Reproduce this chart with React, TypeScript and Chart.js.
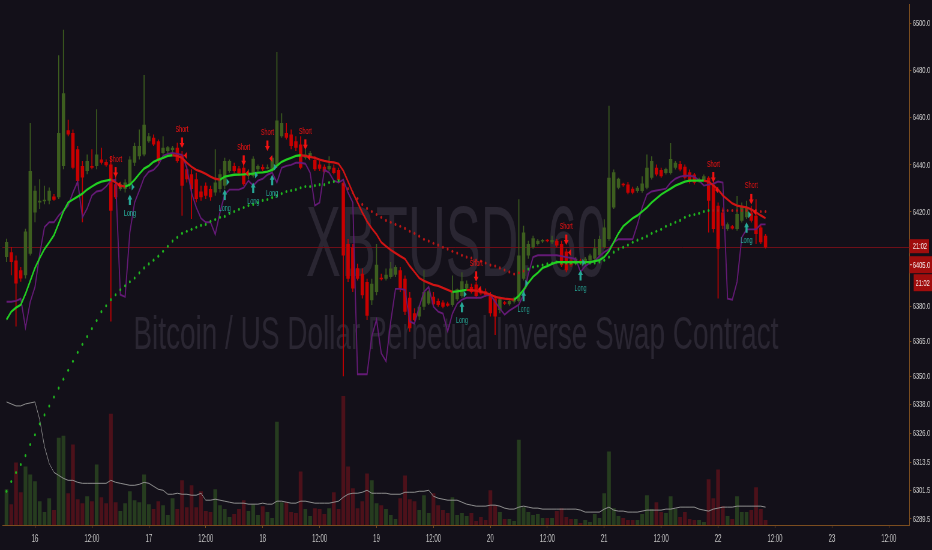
import React, { useEffect, useRef } from "react";
import { Chart, registerables } from "chart.js";
Chart.register(...registerables);

// ---------- view ----------
const SQUASH = 0.6; // the reference is horizontally condensed
const VIEW_W = 932;
const VIEW_H = 550;
const CANVAS_W = Math.round(VIEW_W / SQUASH);

// ---------- time axis ----------
const firstDay = 16;          // day label at hour 0
const firstBarHour = -6;      // first candle opens 6h before day 16
const xMinHour = -6.87;
const xMaxHour = 184.35;
const xTickHours = [0, 12, 24, 36, 48, 60, 72, 84, 96, 108, 120, 132, 144, 156, 168, 180];

// ---------- price axis ----------
const yMin = 6286.9;
const yMax = 6508.4;
const yTickValues = [6289.5, 6301.5, 6313.5, 6326, 6338, 6350, 6365, 6380, 6420, 6440, 6460, 6480, 6500];

// ---------- candles (1h) ----------
const opens = [
  6400.8, 6402.9, 6399.4, 6395.2, 6393.1, 6402.2, 6419.8, 6424.0, 6424.5, 6424.8,
  6426.6, 6426.2, 6439.5, 6454.7, 6453.6, 6446.6, 6439.5, 6437.4, 6439.5, 6439.5,
  6442.3, 6441.2, 6440.2, 6431.8, 6429.7, 6429.7, 6431.8, 6440.9, 6443.7, 6444.4,
  6450.1, 6451.5, 6450.1, 6445.1, 6445.9, 6446.3, 6447.3, 6444.4, 6438.1, 6436.0,
  6433.9, 6428.7, 6431.1, 6429.7, 6428.3, 6429.7, 6431.1, 6437.4, 6439.5, 6438.5,
  6438.8, 6435.3, 6435.3, 6438.1, 6439.1, 6438.4, 6437.4, 6439.5, 6452.2, 6453.6,
  6452.9, 6450.1, 6448.7, 6443.0, 6443.7, 6442.1, 6440.2, 6439.2, 6438.1, 6438.8,
  6437.8, 6432.4, 6406.4, 6405.0, 6396.1, 6393.7, 6390.2, 6382.5, 6386.0, 6391.9,
  6391.6, 6392.3, 6393.3, 6395.2, 6391.6, 6383.5, 6376.9, 6375.5, 6379.7, 6381.1,
  6383.9, 6382.1, 6381.5, 6381.1, 6380.4, 6382.9, 6384.3, 6387.4, 6388.1, 6389.1,
  6386.7, 6386.3, 6384.6, 6383.2, 6378.3, 6381.5, 6380.7, 6381.8, 6382.1, 6391.6,
  6401.5, 6405.0, 6406.4, 6407.4, 6407.8, 6407.1, 6407.8, 6406.4, 6403.2, 6399.4,
  6398.0, 6399.4, 6398.7, 6399.4, 6400.1, 6401.5, 6405.0, 6408.5, 6421.9, 6430.3,
  6431.7, 6431.7, 6429.9, 6428.9, 6428.9, 6430.3, 6434.5, 6438.8, 6437.8, 6436.6,
  6436.6, 6438.8, 6440.4, 6439.2, 6436.9, 6435.9, 6433.1, 6433.5, 6434.5, 6431.7,
  6422.6, 6419.8, 6412.7, 6413.9, 6412.7, 6416.2, 6417.7, 6419.8, 6418.4, 6413.4,
  6409.9,
];
const highs = [
  6408.6, 6405.1, 6401.5, 6396.6, 6412.8, 6457.8, 6431.1, 6433.9, 6431.1, 6430.4,
  6427.6, 6486.6, 6497.5, 6459.2, 6455.0, 6448.0, 6441.6, 6444.4, 6446.6, 6463.7,
  6447.3, 6442.3, 6443.7, 6438.8, 6432.5, 6433.9, 6443.7, 6449.4, 6455.0, 6478.2,
  6453.6, 6452.9, 6450.8, 6452.2, 6448.0, 6448.0, 6449.4, 6445.9, 6439.5, 6438.1,
  6436.7, 6431.1, 6432.5, 6431.1, 6446.6, 6438.1, 6443.0, 6442.3, 6440.9, 6439.5,
  6443.7, 6438.1, 6443.7, 6440.2, 6440.2, 6440.2, 6443.7, 6488.0, 6462.0, 6457.8,
  6455.0, 6452.2, 6452.2, 6446.6, 6445.9, 6443.7, 6441.6, 6440.2, 6443.7, 6440.2,
  6438.8, 6433.8, 6408.5, 6406.4, 6398.0, 6395.9, 6391.6, 6391.6, 6406.4, 6393.7,
  6395.9, 6398.7, 6397.3, 6396.6, 6393.0, 6386.0, 6379.0, 6380.4, 6395.2, 6386.7,
  6386.0, 6383.2, 6382.5, 6381.8, 6393.0, 6387.4, 6394.4, 6390.9, 6389.5, 6390.2,
  6387.4, 6387.4, 6386.0, 6384.6, 6383.9, 6382.1, 6382.5, 6383.9, 6425.4, 6414.1,
  6407.8, 6409.9, 6408.5, 6408.5, 6408.5, 6409.9, 6408.5, 6407.8, 6404.3, 6400.8,
  6400.8, 6400.1, 6400.8, 6402.2, 6408.5, 6409.9, 6416.9, 6465.1, 6438.0, 6434.5,
  6432.4, 6432.7, 6430.7, 6431.0, 6435.2, 6444.4, 6443.7, 6440.2, 6438.8, 6438.8,
  6449.3, 6441.6, 6441.6, 6440.2, 6438.0, 6436.6, 6434.5, 6435.9, 6435.2, 6433.1,
  6424.0, 6421.9, 6415.5, 6414.4, 6426.8, 6424.0, 6424.7, 6422.6, 6425.4, 6414.8,
  6410.6,
];
const lows = [
  6398.7, 6393.1, 6371.3, 6390.3, 6391.7, 6401.5, 6415.6, 6421.2, 6423.3, 6423.3,
  6424.8, 6425.5, 6438.1, 6452.2, 6438.1, 6431.1, 6415.6, 6436.0, 6438.1, 6438.1,
  6440.2, 6439.2, 6373.4, 6425.5, 6429.0, 6428.3, 6429.7, 6439.5, 6442.3, 6443.7,
  6449.4, 6448.0, 6440.9, 6444.4, 6445.1, 6445.4, 6440.9, 6418.4, 6432.5, 6417.0,
  6424.1, 6424.8, 6425.5, 6424.8, 6426.9, 6428.3, 6429.7, 6436.7, 6436.7, 6435.3,
  6431.1, 6433.9, 6434.6, 6437.4, 6437.4, 6438.1, 6436.7, 6438.8, 6451.5, 6450.8,
  6446.6, 6445.9, 6438.1, 6442.3, 6443.0, 6437.4, 6437.4, 6436.4, 6437.4, 6436.0,
  6432.7, 6350.1, 6390.2, 6386.0, 6390.9, 6383.2, 6374.1, 6380.4, 6384.6, 6390.9,
  6390.9, 6391.6, 6392.3, 6386.0, 6376.2, 6369.1, 6373.4, 6374.1, 6378.3, 6380.4,
  6379.7, 6379.7, 6379.0, 6379.7, 6379.7, 6382.1, 6383.5, 6386.7, 6385.3, 6383.2,
  6384.6, 6383.9, 6375.5, 6367.7, 6376.9, 6380.4, 6380.1, 6381.1, 6381.5, 6390.9,
  6400.1, 6404.3, 6405.7, 6406.8, 6407.1, 6406.4, 6405.0, 6396.6, 6394.4, 6396.6,
  6397.3, 6397.5, 6398.0, 6398.7, 6399.4, 6400.8, 6404.3, 6407.8, 6421.2, 6429.6,
  6430.7, 6427.5, 6427.5, 6428.2, 6428.2, 6429.6, 6433.8, 6435.2, 6434.5, 6435.9,
  6435.9, 6438.0, 6437.3, 6433.8, 6432.1, 6431.7, 6432.4, 6433.0, 6411.3, 6411.3,
  6383.2, 6412.7, 6412.0, 6412.5, 6412.0, 6415.5, 6417.0, 6415.5, 6406.4, 6406.4,
  6404.5,
];
const closes = [
  6407.2, 6398.7, 6389.6, 6391.7, 6411.7, 6437.4, 6429.0, 6424.8, 6425.0, 6429.0,
  6425.2, 6453.6, 6470.5, 6452.9, 6438.8, 6433.2, 6434.6, 6441.6, 6438.8, 6444.4,
  6440.9, 6439.8, 6420.5, 6426.2, 6431.8, 6432.5, 6442.3, 6448.0, 6448.0, 6457.1,
  6452.2, 6448.7, 6441.6, 6447.3, 6447.5, 6447.3, 6441.6, 6431.1, 6433.9, 6429.7,
  6425.5, 6426.2, 6426.9, 6426.2, 6432.5, 6436.0, 6441.6, 6441.6, 6437.4, 6436.4,
  6431.8, 6436.7, 6442.6, 6439.5, 6438.1, 6438.8, 6443.0, 6458.9, 6457.8, 6451.5,
  6448.0, 6447.3, 6438.8, 6444.4, 6445.1, 6438.1, 6438.4, 6437.1, 6439.5, 6436.6,
  6433.6, 6401.5, 6391.6, 6387.4, 6391.6, 6384.6, 6375.9, 6389.5, 6397.5, 6391.4,
  6393.3, 6395.9, 6396.6, 6387.4, 6377.6, 6370.5, 6374.1, 6379.7, 6386.0, 6386.3,
  6380.7, 6380.4, 6379.7, 6380.1, 6386.0, 6387.1, 6390.5, 6389.5, 6386.0, 6384.3,
  6385.3, 6384.6, 6376.9, 6375.5, 6382.9, 6381.0, 6382.1, 6383.2, 6401.5, 6411.3,
  6406.4, 6408.8, 6407.8, 6407.8, 6407.5, 6408.1, 6405.7, 6397.3, 6395.2, 6397.3,
  6400.1, 6398.4, 6400.1, 6401.5, 6404.6, 6408.5, 6413.4, 6434.5, 6436.9, 6434.1,
  6431.3, 6428.2, 6428.2, 6430.3, 6432.1, 6438.8, 6441.6, 6435.9, 6435.2, 6438.3,
  6442.5, 6440.9, 6438.0, 6434.5, 6432.7, 6432.4, 6433.8, 6435.2, 6424.7, 6412.7,
  6404.3, 6414.1, 6414.8, 6413.0, 6419.1, 6422.6, 6421.9, 6416.2, 6410.6, 6407.1,
  6405.0,
];

// ---------- volume pane (10k contracts) ----------
const volumes = [
  36, 21, 63, 33, 59, 51, 44, 24, 13, 27,
  15, 88, 90, 32, 81, 26, 22, 29, 24, 61,
  28, 22, 112, 23, 14, 22, 34, 25, 23, 51,
  21, 16, 24, 20, 10, 27, 16, 45, 18, 40,
  18, 34, 14, 13, 36, 20, 16, 8, 11, 16,
  25, 14, 21, 10, 19, 13, 7, 104, 23, 23,
  13, 12, 54, 16, 9, 17, 16, 11, 17, 33,
  16, 130, 59, 37, 17, 24, 52, 45, 22, 20,
  16, 10, 6, 27, 50, 26, 24, 15, 30, 12,
  32, 20, 15, 12, 28, 10, 12, 9, 12, 4,
  8, 5, 35, 20, 13, 6, 6, 4, 86, 18,
  13, 10, 11, 7, 7, 7, 14, 17, 8, 6,
  6, 2, 5, 3, 11, 7, 32, 74, 17, 9,
  7, 5, 5, 5, 11, 30, 16, 23, 13, 12,
  29, 16, 8, 13, 6, 5, 5, 3, 46, 27,
  56, 19, 9, 6, 29, 13, 13, 15, 38, 16,
  5,
];
const volumeIndicator = [
  124, 122, 120, 120, 122, 123, 124, 106, 79, 62,
  53, 50, 47, 45, 45, 43, 42, 42, 42, 42,
  42, 42, 45, 43, 42, 41, 40, 40, 41, 43,
  42, 39, 36, 35, 31, 31, 32, 31, 31, 30,
  30, 32, 25, 25, 26, 25, 24, 23, 22, 22,
  22, 21, 21, 21, 22, 21, 21, 24, 24, 23,
  22, 22, 24, 24, 23, 22, 22, 22, 22, 23,
  24, 28, 31, 32, 32, 33, 35, 32, 32, 32,
  32, 31, 31, 31, 33, 33, 33, 34, 34, 35,
  29, 27, 26, 25, 25, 25, 23, 21, 20, 19,
  19, 19, 20, 20, 19, 17, 16, 16, 18, 19,
  18, 17, 17, 16, 16, 16, 16, 16, 16, 16,
  16, 15, 13, 13, 13, 13, 16, 18, 15, 14,
  14, 13, 13, 13, 14, 15, 15, 15, 15, 16,
  16, 17, 18, 18, 18, 18, 16, 15, 14, 16,
  17, 18, 18, 18, 19, 19, 19, 19, 19, 19,
  18,
];
const volumeAxisMax = 525;

// ---------- indicators ----------
const fastLine = [
  6374.2, 6377.6, 6379.3, 6380.5, 6385.2, 6390.7, 6396.2, 6400.4, 6404.2, 6407.1,
  6410.1, 6415.1, 6420.2, 6424.0, 6425.3, 6426.5, 6427.8, 6429.5, 6430.8, 6432.0,
  6432.9, 6433.3, 6433.7, 6432.5, 6431.2, 6430.8, 6431.6, 6433.7, 6436.2, 6438.4,
  6439.6, 6441.3, 6442.2, 6443.0, 6443.8, 6444.1, 6443.8, 6443.0, 6440.9, 6439.2,
  6437.9, 6437.1, 6436.2, 6435.0, 6434.1, 6433.7, 6435.0, 6435.4, 6435.8, 6435.9,
  6436.0, 6436.2, 6436.3, 6436.7, 6436.8, 6437.1, 6437.9, 6439.6, 6441.3, 6442.2,
  6443.0, 6443.8, 6444.1, 6443.8, 6443.4, 6443.0, 6442.2, 6441.7, 6441.3, 6441.1,
  6440.5, 6437.5, 6432.9, 6428.2, 6424.0, 6419.8, 6416.0, 6413.0, 6410.5, 6407.1,
  6405.4, 6403.8, 6402.5, 6401.2, 6400.0, 6397.0, 6394.5, 6391.9, 6390.7, 6389.8,
  6389.0, 6388.6, 6387.7, 6386.9, 6386.0, 6386.2, 6386.5, 6386.9, 6386.7, 6386.5,
  6386.0, 6385.6, 6384.8, 6383.9, 6383.5, 6383.1, 6382.9, 6382.7, 6384.4, 6386.9,
  6389.8, 6392.4, 6394.1, 6396.2, 6397.0, 6397.9, 6398.7, 6398.7, 6398.7, 6398.7,
  6398.7, 6398.7, 6398.7, 6398.7, 6399.1, 6399.5, 6400.8, 6403.3, 6407.1, 6410.9,
  6413.9, 6415.6, 6417.3, 6418.5, 6420.2, 6421.9, 6424.0, 6425.7, 6427.4, 6428.7,
  6429.9, 6431.2, 6432.0, 6432.9, 6433.3, 6433.3, 6433.3, 6433.3, 6432.9, 6431.2,
  6429.5, 6427.0, 6425.3, 6423.6, 6422.7, 6422.3, 6421.9, 6421.1, 6419.8, 6418.5,
  6417.3,
];
const slowLine = [
  6301.2, 6305.4, 6309.2, 6312.6, 6316.4, 6321.1, 6325.3, 6329.9, 6333.7, 6337.5,
  6341.3, 6345.1, 6348.9, 6352.7, 6356.5, 6360.3, 6363.7, 6367.0, 6370.4, 6373.8,
  6377.6, 6380.1, 6382.7, 6384.8, 6386.9, 6388.6, 6390.3, 6391.9, 6394.1, 6396.2,
  6397.9, 6399.5, 6401.2, 6403.3, 6405.4, 6407.6, 6409.2, 6410.9, 6411.8, 6412.6,
  6413.5, 6414.3, 6414.7, 6416.0, 6416.8, 6417.7, 6418.1, 6419.4, 6420.2, 6421.1,
  6421.9, 6422.7, 6423.2, 6424.0, 6424.9, 6425.3, 6426.1, 6427.0, 6427.8, 6428.7,
  6429.1, 6429.5, 6430.3, 6430.8, 6430.8, 6431.2, 6431.6, 6431.6, 6432.5, 6432.9,
  6433.3, 6431.6, 6429.9, 6428.2, 6425.7, 6423.2, 6421.5, 6420.2, 6418.9, 6417.7,
  6416.4, 6415.6, 6414.7, 6413.9, 6413.0, 6411.8, 6410.9, 6409.7, 6408.4, 6407.6,
  6406.7, 6405.9, 6405.0, 6404.2, 6403.3, 6402.5, 6401.6, 6400.8, 6400.4, 6399.5,
  6399.1, 6398.3, 6397.4, 6397.0, 6396.2, 6395.3, 6394.5, 6393.6, 6394.1, 6394.9,
  6395.7, 6396.6, 6397.0, 6397.4, 6397.9, 6398.3, 6398.7, 6398.3, 6398.3, 6398.3,
  6398.3, 6398.3, 6398.3, 6398.3, 6398.3, 6398.7, 6399.5, 6400.8, 6402.9, 6404.2,
  6405.0, 6405.9, 6407.1, 6408.0, 6408.8, 6409.7, 6410.9, 6411.8, 6412.6, 6413.9,
  6414.7, 6415.6, 6416.4, 6417.7, 6418.5, 6418.9, 6419.4, 6420.2, 6420.6, 6420.6,
  6420.6, 6420.6, 6420.6, 6420.6, 6420.6, 6420.6, 6420.6, 6420.6, 6420.6, 6420.2,
  6420.2,
];
const slowRedRanges = [[72, 110], [150, 161]]; // bar numbers where the dots are red
const trailLine = [
  6381.8, 6381.8, 6382.2, 6383.1, 6370.8, 6381.8, 6388.1, 6402.1, 6413.5, 6415.6,
  6415.6, 6418.5, 6420.6, 6422.7, 6428.2, 6432.9, 6417.7, 6421.5, 6427.0, 6428.7,
  6429.1, 6430.8, 6433.3, 6433.7, 6384.8, 6383.9, 6411.4, 6424.0, 6429.1, 6434.6,
  6437.1, 6437.9, 6440.0, 6443.8, 6444.7, 6445.1, 6444.7, 6444.3, 6438.8, 6428.2,
  6421.9, 6417.3, 6415.6, 6415.6, 6410.5, 6419.8, 6427.4, 6429.5, 6429.5, 6429.5,
  6430.3, 6433.3, 6431.2, 6433.3, 6434.1, 6435.8, 6436.7, 6432.5, 6438.8, 6439.6,
  6440.0, 6440.9, 6440.9, 6440.5, 6436.7, 6422.7, 6424.0, 6437.9, 6436.7, 6433.3,
  6432.5, 6433.7, 6428.2, 6424.0, 6351.0, 6351.0, 6351.0, 6367.1, 6374.2, 6359.9,
  6356.5, 6373.4, 6387.3, 6387.3, 6386.9, 6373.4, 6372.5, 6379.7, 6386.0, 6388.1,
  6379.7, 6377.6, 6376.8, 6369.2, 6376.8, 6381.0, 6382.7, 6383.5, 6383.5, 6383.5,
  6383.5, 6384.4, 6384.8, 6381.8, 6378.9, 6376.3, 6378.0, 6379.3, 6380.6, 6384.8,
  6393.6, 6400.8, 6401.6, 6401.6, 6401.6, 6401.6, 6401.6, 6401.2, 6400.8, 6400.4,
  6400.0, 6394.5, 6397.0, 6398.3, 6399.1, 6401.2, 6402.9, 6404.2, 6407.1, 6408.4,
  6408.4, 6408.4, 6408.4, 6414.7, 6421.9, 6427.4, 6428.7, 6429.1, 6429.5, 6429.9,
  6432.5, 6434.1, 6435.0, 6435.4, 6435.4, 6435.0, 6433.3, 6431.2, 6431.6, 6432.0,
  6432.9, 6432.5, 6383.1, 6382.7, 6390.3, 6409.2, 6412.6, 6412.6, 6412.6, 6414.7,
  6414.7,
];

// ---------- signals: [bar number, arrow-tip price] ----------
const shortSignals = [
  [24, 6434.6], [38, 6447.2], [51, 6439.6], [56, 6445.9], [64, 6446.4],
  [100, 6390.3], [119, 6405.9], [150, 6432.5], [158, 6423.2],
];
const longSignals = [
  [27, 6427.4], [47, 6429.5], [53, 6432.5], [57, 6435.8],
  [97, 6381.8], [110, 6386.5], [122, 6395.3], [157, 6415.6],
];

// ---------- texts ----------
const watermarkTitle = "XBTUSD, 60";
const watermarkSubtitle = "Bitcoin / US Dollar Perpetual Inverse Swap Contract";
const countdownLabel = "21:02";

// ---------- styles ----------
const BG = "#131019";
const FONT = "'Liberation Sans', Arial, sans-serif";
const AXIS = "#7b4d1f";
const TICK_TEXT = "#c4c4c4";
const GREEN_CANDLE = "#3d5e1f";
const RED_CANDLE = "#c80000";
const GREEN_VOL = "#263c1f";
const RED_VOL = "#4c111a";
const FAST_GREEN = "#22cf22";
const FAST_RED = "#d01414";
const DOT_GREEN = "#1fb41f";
const DOT_RED = "#b81616";
const PURPLE = "#641a76";
const GREY = "#8f8f8f";
const WATERMARK = "#2a2632";
const PRICE_LINE = "#6e0f18";
const LABEL_BOX = "#a00d0d";
const SHORT_COLOR = "#f01212";
const LONG_COLOR = "#27a897";

const hourOf = (i: number) => firstBarHour + i;

export default function App() {
  const ref = useRef<HTMLCanvasElement | null>(null);

  useEffect(() => {
    document.body.style.margin = "0";
    document.body.style.background = BG;
    const canvas = ref.current;
    if (!canvas) return;

    const up = closes.map((c, i) => c >= opens[i]);
    const candleColors = up.map((u) => (u ? GREEN_CANDLE : RED_CANDLE));
    const volColors = up.map((u) => (u ? GREEN_VOL : RED_VOL));
    const dotColors = slowLine.map((_, i) =>
      slowRedRanges.some(([a, b]) => i + 1 >= a && i + 1 <= b) ? DOT_RED : DOT_GREEN
    );
    const lastClose = closes[closes.length - 1];

    const backgroundPlugin = {
      id: "bg",
      beforeDraw(chart: any) {
        const { ctx, width, height } = chart;
        ctx.save();
        ctx.fillStyle = BG;
        ctx.fillRect(0, 0, width, height);
        ctx.restore();
      },
    };

    const watermarkPlugin = {
      id: "watermark",
      beforeDatasetsDraw(chart: any) {
        const { ctx, chartArea } = chart;
        const cx = (chartArea.left + chartArea.right) / 2;
        const draw = (text: string, size: number, baseline: number, targetW: number) => {
          ctx.save();
          ctx.font = `${size}px ${FONT}`;
          const w = ctx.measureText(text).width;
          ctx.translate(cx, chartArea.top + baseline);
          ctx.scale(targetW / w, 1);
          ctx.textAlign = "center";
          ctx.textBaseline = "alphabetic";
          ctx.fillStyle = WATERMARK;
          ctx.fillText(text, 0, 0);
          ctx.restore();
        };
        draw(watermarkTitle, 100, 272, 300 / SQUASH);
        draw(watermarkSubtitle, 46, 345, 645 / SQUASH);

        // last price line
        const y = Math.round(chart.scales.y.getPixelForValue(lastClose)) + 0.5;
        ctx.save();
        ctx.strokeStyle = PRICE_LINE;
        ctx.lineWidth = 1;
        ctx.beginPath();
        ctx.moveTo(chartArea.left, y);
        ctx.lineTo(chartArea.right, y);
        ctx.stroke();
        ctx.restore();
      },
    };

    const signalPlugin = {
      id: "signals",
      afterDatasetsDraw(chart: any) {
        const { ctx } = chart;
        const xs = chart.scales.x;
        const ys = chart.scales.y;
        ctx.save();
        ctx.font = `9px ${FONT}`;
        ctx.textAlign = "center";
        ctx.textBaseline = "middle";
        for (const [bar, price] of shortSignals) {
          const x = xs.getPixelForValue(hourOf(bar - 1));
          const y = ys.getPixelForValue(price);
          ctx.fillStyle = SHORT_COLOR;
          ctx.fillRect(x - 1.7, y - 10.5, 3.4, 6.5);
          ctx.beginPath();
          ctx.moveTo(x - 4, y - 5);
          ctx.lineTo(x + 4, y - 5);
          ctx.lineTo(x, y);
          ctx.closePath();
          ctx.fill();
          // entry marker
          ctx.beginPath();
          ctx.moveTo(x + 8, y + 4);
          ctx.lineTo(x + 8, y + 11);
          ctx.lineTo(x + 3, y + 7.5);
          ctx.closePath();
          ctx.fill();
          ctx.fillText("Short", x, y - 18.5);
        }
        for (const [bar, price] of longSignals) {
          const x = xs.getPixelForValue(hourOf(bar - 1));
          const y = ys.getPixelForValue(price);
          ctx.fillStyle = LONG_COLOR;
          ctx.fillRect(x - 1.7, y + 4, 3.4, 6.5);
          ctx.beginPath();
          ctx.moveTo(x - 4, y + 5);
          ctx.lineTo(x + 4, y + 5);
          ctx.lineTo(x, y);
          ctx.closePath();
          ctx.fill();
          // entry marker
          ctx.beginPath();
          ctx.moveTo(x + 3, y - 11);
          ctx.lineTo(x + 3, y - 4);
          ctx.lineTo(x + 8, y - 7.5);
          ctx.closePath();
          ctx.fill();
          ctx.fillText("Long", x, y + 18.5);
        }
        ctx.restore();
      },
    };

    const priceLabelPlugin = {
      id: "priceLabels",
      afterDraw(chart: any) {
        const { ctx, chartArea, width } = chart;
        const y = chart.scales.y.getPixelForValue(lastClose);
        const left = chartArea.right;
        ctx.save();
        ctx.font = `9.5px ${FONT}`;
        ctx.textBaseline = "middle";
        ctx.textAlign = "left";
        const box = (x0: number, x1: number, y0: number, h: number, text: string, tx: number) => {
          ctx.fillStyle = LABEL_BOX;
          ctx.fillRect(x0, y0, x1 - x0, h);
          ctx.fillStyle = "#f2e6e6";
          ctx.fillText(text, tx, y0 + h / 2 + 0.5);
        };
        box(left, width - 5, y - 8, 14, countdownLabel, left + 5.5);
        box(left, width, y + 9, 17, lastClose.toFixed(1), left + 5.5);
        ctx.fillStyle = "#f2e6e6";
        ctx.fillRect(left + 1, y + 17, 3, 1);
        box(left + 7, width, y + 27, 17, countdownLabel, left + 10);
        ctx.restore();
      },
    };

    const chart = new Chart(canvas, {
      type: "bar",
      data: {
        datasets: [
          {
            type: "bar",
            label: "Volume",
            yAxisID: "yv",
            data: volumes.map((v, i) => ({ x: hourOf(i), y: v })),
            backgroundColor: volColors,
            barThickness: 6.3,
            grouped: false,
            inflateAmount: 0,
            order: 10,
          },
          {
            type: "line",
            label: "Volume indicator",
            yAxisID: "yv",
            data: volumeIndicator.map((v, i) => ({ x: hourOf(i), y: v })),
            borderColor: GREY,
            borderWidth: 1,
            pointRadius: 0,
            order: 9,
          },
          {
            type: "bar",
            label: "Wicks",
            yAxisID: "y",
            data: highs.map((h, i) => ({ x: hourOf(i), y: [lows[i], h] })),
            backgroundColor: candleColors,
            barThickness: 1.7,
            grouped: false,
            inflateAmount: 0,
            order: 8,
          },
          {
            type: "bar",
            label: "Bodies",
            yAxisID: "y",
            data: opens.map((o, i) => ({ x: hourOf(i), y: [o, closes[i]] })),
            backgroundColor: candleColors,
            barThickness: 5.6,
            minBarLength: 1.5,
            grouped: false,
            inflateAmount: 0,
            order: 7,
          },
          {
            type: "line",
            label: "Trail",
            yAxisID: "y",
            data: trailLine.map((v, i) => ({ x: hourOf(i), y: v })),
            borderColor: PURPLE,
            borderWidth: 1.9,
            pointRadius: 0,
            order: 5,
          },
          {
            type: "line",
            label: "Slow MA",
            yAxisID: "y",
            data: slowLine.map((v, i) => ({ x: hourOf(i), y: v })),
            showLine: false,
            pointRadius: 1.55,
            pointBorderWidth: 0,
            pointBackgroundColor: dotColors,
            order: 4,
          },
          {
            type: "line",
            label: "Fast MA",
            yAxisID: "y",
            data: fastLine.map((v, i) => ({ x: hourOf(i), y: v })),
            borderWidth: 2.3,
            pointRadius: 0,
            borderColor: FAST_GREEN,
            segment: {
              borderColor: (c: any) => (c.p1.parsed.y >= c.p0.parsed.y ? FAST_GREEN : FAST_RED),
            },
            order: 3,
          },
        ] as any,
      },
      options: {
        responsive: false,
        devicePixelRatio: 1,
        animation: false,
        events: [],
        layout: { padding: 0 },
        plugins: { legend: { display: false }, tooltip: { enabled: false } },
        scales: {
          x: {
            type: "linear",
            position: "bottom",
            min: xMinHour,
            max: xMaxHour,
            offset: false,
            grid: { display: true, drawOnChartArea: false, drawTicks: true, tickLength: 3, color: AXIS, offset: false },
            border: { display: true, color: AXIS, width: 1 },
            ticks: {
              autoSkip: false,
              maxRotation: 0,
              padding: 5,
              color: TICK_TEXT,
              font: { family: FONT, size: 10 },
              callback: (v: any) => {
                const h = Number(v);
                return h % 24 === 0 ? String(firstDay + h / 24) : "12:00";
              },
            },
            afterBuildTicks: (s: any) => {
              s.ticks = xTickHours.map((v) => ({ value: v }));
            },
            afterFit: (s: any) => {
              s.height = 25;
              s.paddingLeft = 0;
              s.paddingRight = 0;
            },
          },
          y: {
            type: "linear",
            position: "right",
            min: yMin,
            max: yMax,
            grid: { display: true, drawOnChartArea: false, drawTicks: true, tickLength: 3, color: AXIS },
            border: { display: true, color: AXIS, width: 1 },
            ticks: {
              padding: 2.5,
              color: TICK_TEXT,
              font: { family: FONT, size: 9.5 },
              callback: (v: any) => Number(v).toFixed(1),
            },
            afterBuildTicks: (s: any) => {
              s.ticks = yTickValues.map((v) => ({ value: v }));
            },
            afterFit: (s: any) => {
              s.width = 37.5;
              s.paddingTop = 0;
              s.paddingBottom = 0;
            },
          },
          yv: {
            type: "linear",
            display: false,
            min: 0,
            max: volumeAxisMax,
          },
        },
      } as any,
      plugins: [backgroundPlugin, watermarkPlugin, signalPlugin, priceLabelPlugin],
    });

    return () => chart.destroy();
  }, []);

  return (
    <canvas
      ref={ref}
      width={CANVAS_W}
      height={VIEW_H}
      style={{ width: VIEW_W + "px", height: VIEW_H + "px", display: "block", background: BG }}
    />
  );
}
